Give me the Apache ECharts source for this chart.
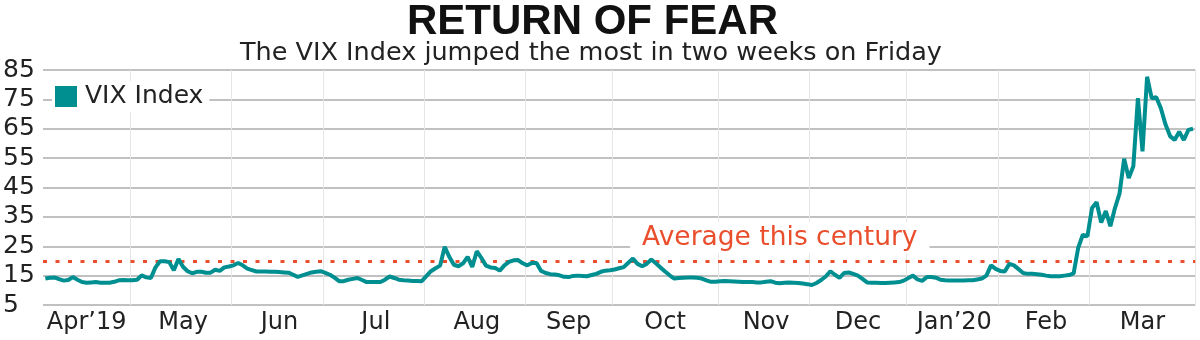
<!DOCTYPE html>
<html>
<head>
<meta charset="utf-8">
<script src="https://cdn.jsdelivr.net/npm/echarts@6/dist/echarts.min.js"></script>
<style>html,body{margin:0;padding:0;background:#fff}#c{width:1200px;height:340px}</style>
</head>
<body>
<div id="c"></div>
<script>
// ---- data ----
const titleText = 'RETURN OF FEAR';
const subtitleText = 'The VIX Index jumped the most in two weeks on Friday';
const seriesName = 'VIX Index';
const averageLabel = 'Average this century';
const centuryAverage = 20;
const yTickValues = [5, 15, 25, 35, 45, 55, 65, 75, 85];

const monthLabels = ['Apr\u201919', 'May', 'Jun', 'Jul', 'Aug', 'Sep', 'Oct', 'Nov', 'Dec', 'Jan\u201920', 'Feb', 'Mar'];

// daily closes, one array per month
const apr19 = [14.0,14.3,14.4,13.8,13.3,13.5,14.5,13.6,12.8,12.6,12.7,12.8,12.6,12.6,12.6,12.9,13.4,13.5,13.4];
const may19 = [13.4,13.6,15.1,14.4,14.2,17.8,19.9,19.9,19.6,16.8,20.7,18.0,16.5,15.8,16.3,16.3,16.0,16.0,17.0,16.6,17.8,18.1];
const jun19 = [18.5,19.3,18.5,17.4,16.9,16.4,16.4,16.4,16.3,16.3,16.2,16.1,16.0,15.3,14.6,15.1,15.6,16.1,16.3,16.5];
const jul19 = [15.9,15.3,14.3,13.1,13.1,13.6,13.9,14.2,13.5,12.8,12.8,12.8,12.8,13.6,14.7,14.2,13.6,13.4,13.3,13.2,13.2,13.1];
const aug19 = [14.8,16.5,17.5,18.4,24.8,21.4,18.7,18.2,19.2,21.4,18.0,23.3,21.0,18.4,17.8,17.6,16.7,18.5,19.7,20.2,20.3,19.2];
const sep19 = [18.5,19.3,19.3,16.6,15.9,15.5,15.4,15.1,14.6,14.5,14.9,15.0,14.9,14.8,15.2,15.6,16.3,16.7,16.8];
const oct19 = [17.1,17.5,17.9,19.4,20.8,19.0,18.2,19.0,20.5,19.2,17.8,16.4,15.1,14.0,14.2,14.3,14.4,14.4,14.3,14.0,13.4,12.9,12.9];
const nov19 = [13.1,13.2,13.1,13.0,12.9,12.8,12.8,12.8,12.7,12.7,12.9,13.1,12.6,12.4,12.6,12.7,12.6,12.5,12.3,12.1];
const dec19 = [11.8,12.5,13.5,14.7,16.5,15.3,14.2,15.9,16.1,15.6,15.0,13.9,12.7,12.6,12.6,12.5,12.5,12.6,12.7,12.8,13.3];
const jan20 = [14.2,15.0,13.7,13.2,14.5,14.5,14.3,13.6,13.4,13.3,13.3,13.3,13.3,13.4,13.4,13.7,14.0,15.0,18.5,17.3];
const feb20 = [16.6,16.4,19.0,18.5,17.2,15.9,15.6,15.6,15.5,15.3,15.0,14.8,14.8,14.8,15.0,15.2,15.8,24.5,28.9,28.4];
const mar20 = [38.0,40.0,33.1,37.0,31.8,38.0,43.0,54.8,48.2,52.2,75.4,57.3,82.7,75.4,75.7,72.0,66.5,62.5,61.2,64.0,61.2,64.6,65.0];

const monthValues = [apr19, may19, jun19, jul19, aug19, sep19, oct19, nov19, dec19, jan20, feb20, mar20];

// ---- build category axis ----
const categories = [];
const values = [];
const monthStart = new Set();
const labelAt = new Map();
monthValues.forEach((arr, m) => {
  const start = categories.length;
  monthStart.add(start);
  labelAt.set(start + Math.ceil((arr.length - 1) / 2), monthLabels[m]);
  arr.forEach((v, j) => { categories.push(monthLabels[m] + ' #' + (j + 1)); values.push(v); });
});

const FONT = 'DejaVu Sans';
const TEAL = '#008f91';
const RED = '#ea4f2d';
const N = categories.length;
const band = 1148 / (N - 1);
const gridLeft = 45 - band / 2;
const gridRight = 1200 - (1193 + band / 2);

const chart = echarts.init(document.getElementById('c'), null, { renderer: 'canvas' });
chart.setOption({
  animation: false,
  backgroundColor: '#fff',
  title: [
    { text: titleText, left: 407, top: 1, padding: 0,
      textStyle: { fontFamily: 'Liberation Sans', fontWeight: 'bold', fontSize: 42, color: '#111' } },
    { text: subtitleText, left: 240, top: 40, padding: 0,
      textStyle: { fontFamily: FONT, fontWeight: 'normal', fontSize: 25.5, color: '#222' } }
  ],
  legend: {
    data: [seriesName], left: 52, top: 81, padding: [3, 6, 3, 3],
    backgroundColor: '#fff', icon: 'rect', itemWidth: 22, itemHeight: 21, itemGap: 0,
    textStyle: { fontFamily: FONT, fontSize: 25, color: '#222', padding: [0, 0, 0, 3] }
  },
  grid: { left: gridLeft, right: gridRight, top: 70, bottom: 35, containLabel: false },
  xAxis: {
    type: 'category', data: categories, boundaryGap: true,
    axisLine: { show: false }, axisTick: { show: false },
    axisLabel: {
      interval: (i) => labelAt.has(i),
      formatter: (v, i) => labelAt.get(i) || '',
      fontFamily: FONT, fontSize: 24, color: '#222', margin: 6
    },
    splitLine: {
      show: true, interval: (i) => i > 0 && monthStart.has(i),
      lineStyle: { color: '#e6e6e6', width: 1 }
    }
  },
  yAxis: {
    type: 'value', min: yTickValues[0], max: yTickValues[yTickValues.length - 1],
    interval: yTickValues[1] - yTickValues[0],
    axisLine: { show: false }, axisTick: { show: false },
    axisLabel: { fontFamily: FONT, fontSize: 25, color: '#222', align: 'left', margin: 40 },
    splitLine: { lineStyle: { color: '#adadad', width: 1.5 } }
  },
  series: [{
    name: seriesName, type: 'line', data: values, color: TEAL,
    symbol: 'none', lineStyle: { width: 4, color: TEAL }, z: 5,
    markLine: {
      silent: true, symbol: 'none', animation: false,
      lineStyle: { type: [4, 8.5], width: 3, color: RED },
      label: { show: false },
      data: [{ yAxis: centuryAverage }]
    },
    markPoint: {
      silent: true, symbol: 'rect', symbolSize: 0, animation: false,
      label: {
        show: true, formatter: averageLabel, offset: [0, -23],
        fontFamily: FONT, fontSize: 26.5, color: RED,
        backgroundColor: '#fff', padding: [2, 12]
      },
      data: [{ coord: [160, centuryAverage] }]
    }
  }]
});
</script>
</body>
</html>
